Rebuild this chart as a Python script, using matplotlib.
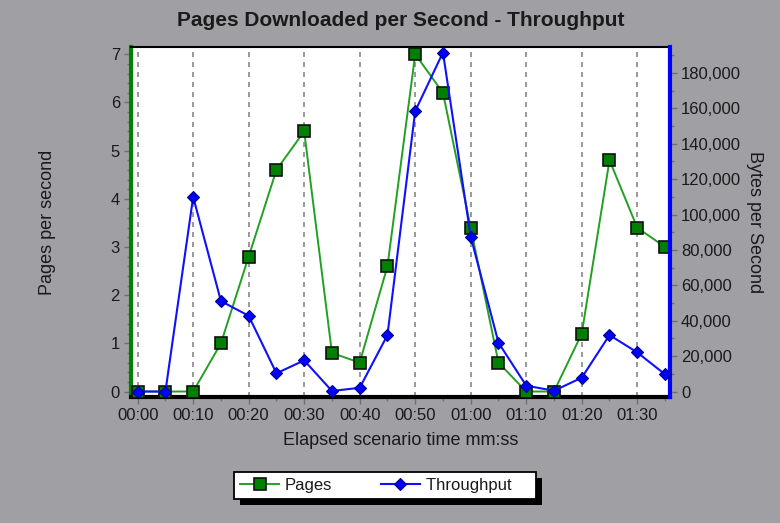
import matplotlib
matplotlib.use("Agg")
import matplotlib.pyplot as plt
from matplotlib.lines import Line2D
from matplotlib.patches import Rectangle
from matplotlib.ticker import MultipleLocator, FuncFormatter
from matplotlib.transforms import IdentityTransform

# Elapsed time (seconds) and measured series
elapsed_s = [0, 5, 10, 15, 20, 25, 30, 35, 40, 45, 50, 55, 60, 65, 70, 75, 80, 85, 90, 95]
pages_per_s = [0, 0, 0, 1.0, 2.8, 4.6, 5.4, 0.8, 0.6, 2.6, 7.0, 6.2, 3.4, 0.6, 0, 0, 1.2, 4.8, 3.4, 3.0]
bytes_per_s = [0, 0, 110000, 51100, 42800, 10300, 17600, 300, 2100, 31900,
               158500, 191600, 87500, 27600, 3300, 450, 7800, 31900, 22100, 9700]
x_tick_labels = ["00:00", "00:10", "00:20", "00:30", "00:40", "00:50",
                 "01:00", "01:10", "01:20", "01:30"]

BG = "#a0a0a4"
TXT = "#1a1a1a"
plt.rcParams["font.family"] = ["Liberation Sans", "DejaVu Sans"]

fig = plt.figure(figsize=(7.8, 5.23), dpi=100, facecolor=BG)
ax = fig.add_axes([131 / 780, 1 - 397.3 / 523, (670 - 131) / 780, (397.3 - 47) / 523])
ax.set_facecolor("white")
ax2 = ax.twinx()

# Pages (left axis)
ax.plot(elapsed_s, pages_per_s, color="#22a022", lw=1.4, marker="s", ms=8.5,
        mfc="#008000", mec="#101010", mew=1.2, zorder=3)
# Throughput (right axis)
ax2.plot(elapsed_s, bytes_per_s, color="#1010ff", lw=1.5, marker="D", ms=6.5,
         mfc="#0000ff", mec="#00008b", mew=0.8, zorder=4)

ax.set_xlim(-1.2, 95.9)
ax.set_ylim(-0.12, 7.15)
ax2.set_ylim(-0.12 * 27232, 7.15 * 27232)

ax.set_xticks(elapsed_s[::2])
ax.set_xticklabels(x_tick_labels)
ax.xaxis.set_minor_locator(MultipleLocator(5))
ax.yaxis.set_major_locator(MultipleLocator(1))
ax.yaxis.set_minor_locator(MultipleLocator(0.2))
ax2.yaxis.set_major_locator(MultipleLocator(20000))
ax2.yaxis.set_minor_locator(MultipleLocator(10000))
ax2.yaxis.set_major_formatter(FuncFormatter(lambda v, p: f"{int(round(v)):,}"))

ax.grid(axis="x", which="major", color="#888888", ls=(0, (3, 3)), lw=1.2)

for a in (ax, ax2):
    a.tick_params(which="major", length=5, width=1, color="#707070",
                  labelsize=12, labelcolor=TXT, pad=3)
    a.tick_params(which="minor", length=3, width=1, color="#707070")

# Spines
ax.spines["left"].set_color("#008000")
ax.spines["left"].set_linewidth(3)
ax.spines["bottom"].set_color("black")
ax.spines["bottom"].set_linewidth(3)
ax.spines["top"].set_color("black")
ax.spines["top"].set_linewidth(1.5)
ax.spines["right"].set_visible(False)
for s in ("left", "bottom", "top"):
    ax2.spines[s].set_visible(False)
ax2.spines["right"].set_color("#0000ff")
ax2.spines["right"].set_linewidth(3)

ax.set_xlabel("Elapsed scenario time mm:ss", fontsize=13, color=TXT, labelpad=6.5)
ax.set_ylabel("Pages per second", fontsize=13, color=TXT, labelpad=39)
ax2.set_ylabel("Bytes per Second", fontsize=13, color=TXT, rotation=270, labelpad=16)

fig.text(0.5 * (131 + 670) / 780, 1 - 20 / 523, "Pages Downloaded per Second - Throughput",
         ha="center", va="center", fontsize=15, fontweight="bold", color=TXT)

handles = [
    Line2D([], [], color="#22a022", lw=1.4, marker="s", ms=8.5, mfc="#008000",
           mec="#101010", mew=1.2),
    Line2D([], [], color="#1010ff", lw=1.5, marker="D", ms=6.5, mfc="#0000ff",
           mec="#00008b", mew=0.8),
]
leg = fig.legend(handles, ["Pages", "Throughput    "], ncol=2, loc="center",
                 bbox_to_anchor=(385 / 780, 1 - 485.5 / 523), fontsize=12,
                 frameon=True, fancybox=False, edgecolor="black", framealpha=1,
                 handlelength=2.35, columnspacing=2.9, borderpad=0.35,
                 handletextpad=0.36, borderaxespad=0)
leg.get_frame().set_linewidth(1.3)
for t in leg.get_texts():
    t.set_color(TXT)

fig.canvas.draw()
bb = leg.get_window_extent()
shadow = Rectangle((bb.x0 + 6, bb.y0 - 6), bb.width, bb.height, transform=IdentityTransform(),
                   facecolor="black", edgecolor="none", zorder=leg.get_zorder() - 1)
fig.add_artist(shadow)

fig.savefig("out.png", dpi=100, facecolor=BG)
